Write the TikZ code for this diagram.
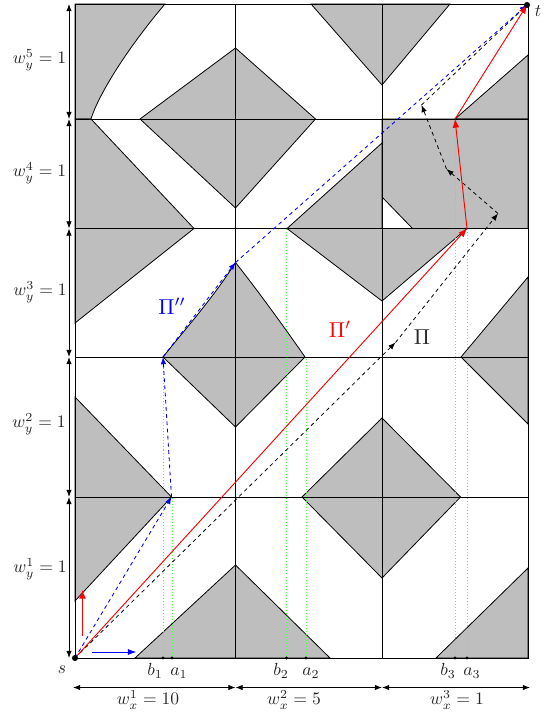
\documentclass[tikz,border=0pt]{standalone}
\usetikzlibrary{arrows.meta}
\definecolor{regiongrey}{RGB}{190,190,190}
\tikzset{
  region/.style={fill=regiongrey,draw=black,line width=0.55pt,line join=miter},
  gridline/.style={draw=black,line width=0.55pt},
  guide/.style={draw=green!70!white,line width=0.6pt,dash pattern=on 0.7pt off 1.4pt},
  tickdot/.style={circle,fill=black,inner sep=0pt,minimum size=2.2pt},
  enddot/.style={circle,fill=black,inner sep=0pt,minimum size=4.2pt},
  dimline/.style={draw=black,line width=0.55pt,{Latex[length=5pt,width=3.8pt]}-{Latex[length=5pt,width=3.8pt]}},
  pathblack/.style={draw=black,dash pattern=on 2.6pt off 2.4pt,line width=0.55pt,-{Latex[length=5pt,width=3.8pt]}},
  pathblue/.style={draw=blue,dash pattern=on 2.6pt off 2.4pt,line width=0.6pt,-{Latex[length=5pt,width=3.8pt]}},
  pathred/.style={draw=red,line width=0.65pt,-{Latex[length=6pt,width=4.8pt]}},
  lbl/.style={inner sep=0pt,text=black!85},
  biglbl/.style={lbl,scale=1.22},
}
\begin{document}
\begin{tikzpicture}[x=0.69444pt,y=-0.69444pt]
\useasboundingbox (0,0) rectangle (546,716);
% named points
\coordinate (s) at (75,658);
\coordinate (t) at (527,5);
\coordinate (R1) at (467,228.5);
\coordinate (R2) at (455,119);
\coordinate (K1) at (395.5,342.5);
\coordinate (K2) at (498,213.5);
\coordinate (K3) at (446.5,169);
\coordinate (K4) at (421.5,105);
\coordinate (B1) at (171.5,497);
\coordinate (B2) at (163,357);
\coordinate (B3) at (235.5,262.5);
% grey regions
\path[region] (75,4) -- (165,4) .. controls (130,45) and (99,93) .. (91,119) -- (75,119) -- cycle;
\path[region] (75,119) -- (91,119) -- (194,228.5) -- (75,323) -- cycle;
\path[region] (140,119) -- (235.5,48) -- (315.5,119) -- (235.5,208) -- cycle;
\path[region] (311,4) -- (382,85) -- (450,4) -- cycle;
\path[region] (455,119) -- (528,55) -- (528,119) -- cycle;
\path[region] (382,119) -- (528,119) -- (528,228.5) -- (412.5,228.5) -- (382,197) -- cycle;
\path[region] (382,143) -- (287,228.5) -- (382,301) -- (467,228.5) -- (382,228.5) -- cycle;
\path[region] (163,357) .. controls (187,327) and (213,298) .. (235.5,262.5) .. controls (255,287) and (285,328) .. (305,357) -- (235.5,427) -- cycle;
\path[region] (461,357) -- (528,277) -- (528,424) -- cycle;
\path[region] (75,397) -- (171.5,497) -- (75,601) -- cycle;
\path[region] (382,418) -- (460.5,497) -- (382,578) -- (302,497) -- cycle;
\path[region] (135,658) -- (235.5,565) -- (330,658) -- cycle;
\path[region] (436,658) -- (528,568) -- (528,658) -- cycle;
% grid
\draw[gridline] (75,4) rectangle (528,658);
\draw[gridline] (75,119) -- (528,119);
\draw[gridline] (75,228.5) -- (528,228.5);
\draw[gridline] (75,357) -- (528,357);
\draw[gridline] (75,497) -- (528,497);
\draw[gridline] (235.5,4) -- (235.5,658);
\draw[gridline] (382,4) -- (382,658);
% ticks and guides
\node[tickdot] (b1) at (163,658) {};
\node[tickdot] (a1) at (172,658) {};
\node[tickdot] (b2) at (286.5,658) {};
\node[tickdot] (a2) at (306,658) {};
\node[tickdot] (b3) at (455,658) {};
\node[tickdot] (a3) at (467,658) {};
\draw[guide] (b1) -- (B2);
\draw[guide] (a1) -- (172,497);
\draw[guide] (b2) -- (286.5,228.5);
\draw[guide] (a2) -- (306,357);
\draw[guide] (b3) -- (R2);
\draw[guide] (a3) -- (R1);
% paths
\draw[pathblack] (s) -- (K1);
\draw[pathblack] (K1) -- (K2);
\draw[pathblack] (K2) -- (K3);
\draw[pathblack] (K3) -- (K4);
\draw[pathblack] (K4) -- (t);
\draw[pathblue] (s) -- (B1);
\draw[pathblue] (B1) -- (B2);
\draw[pathblue] (B2) -- (B3);
\draw[pathblue] (B3) -- (t);
\draw[pathred] (s) -- (R1);
\draw[pathred] (R1) -- (R2);
\draw[pathred] (R2) -- (t);
\coordinate (ru0) at (82.5,636);
\coordinate (ru1) at (82.5,590);
\coordinate (bu0) at (92,652);
\coordinate (bu1) at (136.5,652);
\draw[pathred] (ru0) -- (ru1);
\draw[draw=blue,line width=0.65pt,-{Latex[length=6pt,width=4.2pt]}] (bu0) -- (bu1);
\node[enddot] (sdot) at (s) {};
\node[enddot] (tdot) at (t) {};
% dimension lines
\coordinate (yd0) at (69,4);
\coordinate (yd1) at (69,119);
\coordinate (yd2) at (69,228.5);
\coordinate (yd3) at (69,357);
\coordinate (yd4) at (69,497);
\coordinate (yd5) at (69,658);
\draw[dimline] (yd0) -- (yd1);
\draw[dimline] (yd1) -- (yd2);
\draw[dimline] (yd2) -- (yd3);
\draw[dimline] (yd3) -- (yd4);
\draw[dimline] (yd4) -- (yd5);
\coordinate (xd0) at (73,687.5);
\coordinate (xd1) at (235.5,687.5);
\coordinate (xd2) at (382,687.5);
\coordinate (xd3) at (530,687.5);
\draw[dimline] (xd0) -- (xd1);
\draw[dimline] (xd1) -- (xd2);
\draw[dimline] (xd2) -- (xd3);
% labels
\node[biglbl] (ly5) at (39.5,60) {$w_y^5=1$};
\node[biglbl] (ly4) at (39.5,173) {$w_y^4=1$};
\node[biglbl] (ly3) at (40,292) {$w_y^3=1$};
\node[biglbl] (ly2) at (39,424) {$w_y^2=1$};
\node[biglbl] (ly1) at (40,569) {$w_y^1=1$};
\node[biglbl] (lx1) at (148,700) {$w_x^1=10$};
\node[biglbl] (lx2) at (294,700) {$w_x^2=5$};
\node[biglbl] (lx3) at (457,700) {$w_x^3=1$};
\node[biglbl] (ls) at (62,670) {$s$};
\node[biglbl] (lt) at (538,11) {$t$};
\node[biglbl] (lb1) at (155,671) {$b_1$};
\node[biglbl] (la1) at (179,673) {$a_1$};
\node[biglbl] (lb2) at (281,671) {$b_2$};
\node[biglbl] (la2) at (311,673) {$a_2$};
\node[biglbl] (lb3) at (448,671) {$b_3$};
\node[biglbl] (la3) at (472,673) {$a_3$};
\node[inner sep=0pt,text=blue,scale=1.5] (lpi2) at (172,306) {$\Pi''$};
\node[inner sep=0pt,text=red,scale=1.5] (lpi1) at (340,329) {$\Pi'$};
\node[lbl,scale=1.5] (lpi) at (422,337) {$\Pi$};
\end{tikzpicture}
\end{document}
